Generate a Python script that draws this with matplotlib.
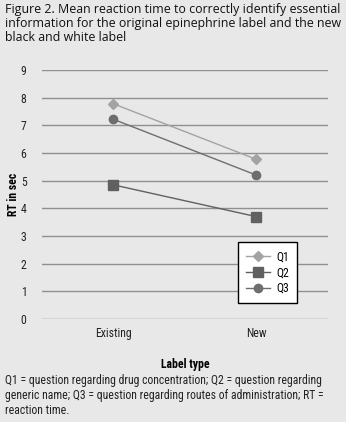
import matplotlib.pyplot as plt

# Данные
label_types = ['Existing', 'New']
q1 = [7.78, 5.77]
q2 = [4.85, 3.70]
q3 = [7.22, 5.20]
y_ticks = list(range(0, 10))

narrow = ['Roboto Condensed', 'DejaVu Sans']

bg = '#e8e8e8'
fig = plt.figure(figsize=(3.46, 4.22), dpi=100, facecolor=bg)
ax = fig.add_axes([0.121, 0.244, 0.827, 0.590], facecolor=bg)

x = range(len(label_types))
ax.plot(x, q1, color='#a3a3a3', marker='D', markersize=5, lw=1, label='Q1')
ax.plot(x, q2, color='#606060', marker='s', markersize=7, lw=1, label='Q2')
ax.plot(x, q3, color='#6e6e6e', marker='o', markersize=6, lw=1, label='Q3')

ax.set_xlim(-0.5, 1.5)
ax.set_ylim(0, 9)
ax.set_yticks(y_ticks)
ax.set_xticks(list(x))
ax.set_xticklabels(label_types, fontfamily=narrow, fontsize=8.5, color='#222222')
for t in ax.get_yticklabels():
    t.set_fontfamily(narrow)
    t.set_fontsize(8.5)
    t.set_color('#222222')
ax.grid(axis='y', color='#909090', lw=1)
ax.set_axisbelow(True)
ax.tick_params(length=0, pad=11)
ax.tick_params(axis='x', pad=6)
for s in ax.spines.values():
    s.set_visible(False)

ax.set_ylabel('RT in sec', fontfamily=narrow, fontsize=8.5, fontweight='bold')
ax.yaxis.set_label_coords(-0.075, 0.5)
ax.set_xlabel('Label type', fontfamily=narrow, fontsize=8.5, fontweight='bold', labelpad=13)

leg = ax.legend(loc='upper left', bbox_to_anchor=(0.686, 0.31), frameon=True,
                fancybox=False, edgecolor='black', framealpha=1,
                prop={'family': narrow, 'size': 8.5}, handlelength=2.0,
                handletextpad=0.5, borderpad=0.7, labelspacing=0.25,
                borderaxespad=0)
leg.get_frame().set_linewidth(1)

fig.text(0.015, 0.992, 'Figure 2. Mean reaction time to correctly identify essential\n'
         'information for the original epinephrine label and the new\n'
         'black and white label', va='top', ha='left', fontsize=8.9,
         fontfamily='Open Sans', color='#111111', linespacing=1.08)

fig.text(0.015, 0.113, 'Q1 = question regarding drug concentration; Q2 = question regarding\n'
         'generic name; Q3 = question regarding routes of administration; RT =\n'
         'reaction time.', va='top', ha='left', fontsize=8.5, fontfamily=narrow,
         color='#222222', linespacing=1.2)

fig.savefig('out.png', dpi=100, facecolor=bg)
